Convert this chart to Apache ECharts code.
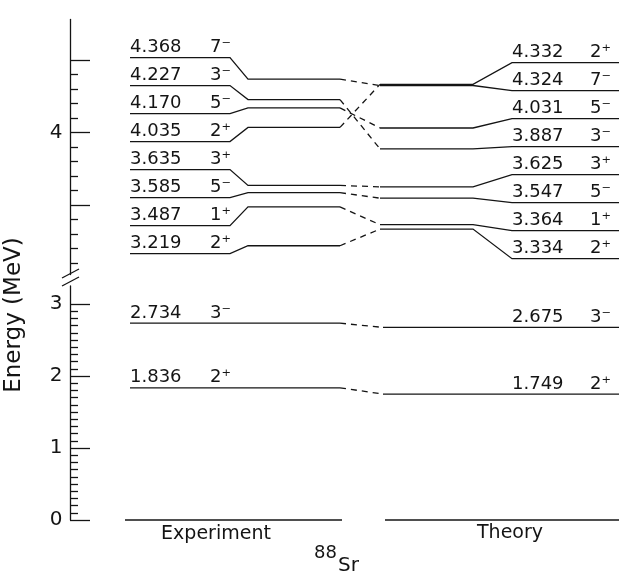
<!DOCTYPE html>
<html>
<head>
<meta charset="utf-8">
<script src="https://cdn.jsdelivr.net/npm/echarts@6/dist/echarts.min.js"></script>
<style>
  html, body { margin: 0; padding: 0; background: #fff; }
  #chart { width: 619px; height: 582px; }
</style>
</head>
<body>
<div id="chart"></div>
<script>
// 88Sr level scheme: measured and calculated excitation energies (MeV)
const upperSpins = ['7⁻', '3⁻', '5⁻', '2⁺', '3⁺', '5⁻', '1⁺', '2⁺'];
const upperExp   = [4.368, 4.227, 4.170, 4.035, 3.635, 3.585, 3.487, 3.219];
const upperThy   = [4.324, 3.887, 4.031, 4.332, 3.625, 3.547, 3.364, 3.334];

const lowerSpins = ['3⁻', '2⁺'];
const lowerExp   = [2.734, 1.836];
const lowerThy   = [2.675, 1.749];

const groundExp = [0];
const groundThy = [0];

const upperMajorTicks = [3.5, 4.0, 4.5];
const upperTickLabels = [4];
const lowerMajorTicks = [0, 1, 2, 3];
const lowerTickLabels = [0, 1, 2, 3];

const columnNames = ['Experiment', 'Theory'];
const nucleusMass = '88';
const nucleusSymbol = 'Sr';

// ---- drawing setup ----
const INK = '#141414';
const FONT = '"DejaVu Sans", sans-serif';
const LW = 1.3;
const DASH = [6, 5];
const LABEL_GAP = 28;     // minimum vertical spacing between stacked level labels
const LABEL_RISE = 10;    // label centre above its line
const LABEL_SIZE = 18;

// horizontal layout of the two columns (px)
const X = {
  expL: 130, expKnee: 230, expBend: 248, expR: 340,
  thyL: 380, thyKnee: 473, thyBend: 512, thyR: 619,
  expNum: 130, expSpin: 210, thyNum: 512, thySpin: 590,
  lowThyL: 383, gndExpL: 125, gndExpR: 342, gndThyL: 385
};

function minorTicks(from, to, majors) {
  const out = [];
  for (let k = Math.round(from * 10); k <= Math.round(to * 10); k++) {
    const v = k / 10;
    if (!majors.some(m => Math.abs(m - v) < 1e-9)) out.push(v);
  }
  return out;
}

// spread crowded label rows apart, keeping each cluster centred on its levels
function spreadSlots(ys, gap) {
  const order = ys.map((y, i) => i).sort((a, b) => ys[a] - ys[b]);
  let groups = order.map(i => ({ ids: [i], mean: ys[i] }));
  let merged = true;
  while (merged) {
    merged = false;
    for (let k = 0; k < groups.length - 1; k++) {
      const a = groups[k], b = groups[k + 1];
      const aEnd = a.mean + (a.ids.length - 1) * gap / 2;
      const bStart = b.mean - (b.ids.length - 1) * gap / 2;
      if (bStart - aEnd < gap) {
        const ids = a.ids.concat(b.ids);
        const mean = ids.reduce((s, id) => s + ys[id], 0) / ids.length;
        groups.splice(k, 2, { ids, mean });
        merged = true;
        break;
      }
    }
  }
  const slots = [];
  groups.forEach(g => g.ids.forEach((id, j) => {
    slots[id] = g.mean + (j - (g.ids.length - 1) / 2) * gap;
  }));
  return slots;
}

function line(points, dashed) {
  return {
    type: 'polyline',
    shape: { points },
    style: { stroke: INK, lineWidth: LW, fill: null, lineDash: dashed ? DASH : null }
  };
}
function label(text, x, y) {
  return {
    type: 'text',
    style: { text, x, y, fill: INK, fontSize: LABEL_SIZE, fontFamily: FONT, align: 'left', verticalAlign: 'middle' }
  };
}

function renderUpper(params, api) {
  const i = params.dataIndex;
  const yE = upperExp.map(e => api.coord([0, e])[1]);
  const yT = upperThy.map(e => api.coord([0, e])[1]);
  const sE = spreadSlots(yE, LABEL_GAP);
  const sT = spreadSlots(yT, LABEL_GAP);
  return {
    type: 'group',
    children: [
      line([[X.expL, sE[i]], [X.expKnee, sE[i]], [X.expBend, yE[i]], [X.expR, yE[i]]]),
      line([[X.expR, yE[i]], [X.thyL, yT[i]]], true),
      line([[X.thyL, yT[i]], [X.thyKnee, yT[i]], [X.thyBend, sT[i]], [X.thyR, sT[i]]]),
      label(upperExp[i].toFixed(3), X.expNum, sE[i] - LABEL_RISE),
      label(upperSpins[i], X.expSpin, sE[i] - LABEL_RISE),
      label(upperThy[i].toFixed(3), X.thyNum, sT[i] - LABEL_RISE),
      label(upperSpins[i], X.thySpin, sT[i] - LABEL_RISE)
    ]
  };
}

function renderLower(params, api) {
  const i = params.dataIndex;
  const yE = api.coord([0, lowerExp[i]])[1];
  const yT = api.coord([0, lowerThy[i]])[1];
  return {
    type: 'group',
    children: [
      line([[X.expL, yE], [X.expR, yE]]),
      line([[X.expR, yE], [X.lowThyL, yT]], true),
      line([[X.lowThyL, yT], [X.thyR, yT]]),
      label(lowerExp[i].toFixed(3), X.expNum, yE - LABEL_RISE),
      label(lowerSpins[i], X.expSpin, yE - LABEL_RISE),
      label(lowerThy[i].toFixed(3), X.thyNum, yT - LABEL_RISE),
      label(lowerSpins[i], X.thySpin, yT - LABEL_RISE)
    ]
  };
}

function renderGround(params, api) {
  const i = params.dataIndex;
  const yE = api.coord([0, groundExp[i]])[1];
  const yT = api.coord([0, groundThy[i]])[1];
  return {
    type: 'group',
    children: [
      line([[X.gndExpL, yE], [X.gndExpR, yE]]),
      line([[X.gndThyL, yT], [X.thyR, yT]])
    ]
  };
}

const axisLine = { show: true, lineStyle: { color: INK, width: LW } };
const tickLabel = (values) => ({
  show: true, customValues: values, color: INK, fontSize: 20, fontFamily: FONT,
  align: 'center', margin: 14
});

function yAxesFor(grid, min, max, majors, labels, minors) {
  return [
    {
      type: 'value', gridIndex: grid, min, max, position: 'left',
      axisLine, splitLine: { show: false },
      axisTick: { show: true, inside: true, length: 20, customValues: majors, lineStyle: { color: INK, width: LW } },
      axisLabel: tickLabel(labels)
    },
    {
      type: 'value', gridIndex: grid, min, max, position: 'left',
      axisLine: { show: false }, splitLine: { show: false },
      axisTick: { show: true, inside: true, length: 8, customValues: minors, lineStyle: { color: INK, width: LW } },
      axisLabel: { show: false }
    }
  ];
}

const chart = echarts.init(document.getElementById('chart'), null, { renderer: 'canvas' });

chart.setOption({
  animation: false,
  backgroundColor: '#fff',
  grid: [
    { left: 70, right: 0, top: 19.4, bottom: 307.4 },
    { left: 70, right: 0, top: 286, bottom: 62 }
  ],
  xAxis: [
    { type: 'value', gridIndex: 0, min: 0, max: 1, show: false },
    { type: 'value', gridIndex: 1, min: 0, max: 1, show: false }
  ],
  yAxis: [
    ...yAxesFor(0, 3.02, 4.78, upperMajorTicks, upperTickLabels, minorTicks(3.1, 4.5, upperMajorTicks)),
    ...yAxesFor(1, 0, 3.25, lowerMajorTicks, lowerTickLabels, minorTicks(0.1, 2.9, lowerMajorTicks))
  ],
  series: [
    {
      type: 'custom', xAxisIndex: 0, yAxisIndex: 0, clip: false,
      data: upperExp.map((e, i) => [0, e, upperThy[i]]),
      encode: { x: 0, y: [1, 2] },
      renderItem: renderUpper
    },
    {
      type: 'custom', xAxisIndex: 1, yAxisIndex: 2, clip: false,
      data: lowerExp.map((e, i) => [0, e, lowerThy[i]]),
      encode: { x: 0, y: [1, 2] },
      renderItem: renderLower
    },
    {
      type: 'custom', xAxisIndex: 1, yAxisIndex: 2, clip: false,
      data: groundExp.map((e, i) => [0, e, groundThy[i]]),
      encode: { x: 0, y: [1, 2] },
      renderItem: renderGround
    }
  ],
  graphic: [
    // axis break marks
    { type: 'line', shape: { x1: 62, y1: 278, x2: 79, y2: 269 }, style: { stroke: INK, lineWidth: LW } },
    { type: 'line', shape: { x1: 62, y1: 286, x2: 79, y2: 277 }, style: { stroke: INK, lineWidth: LW } },
    {
      type: 'text', x: 14, y: 315, rotation: Math.PI / 2,
      style: { text: 'Energy (MeV)', fill: INK, fontSize: 23, fontFamily: FONT, align: 'center', verticalAlign: 'middle' }
    },
    {
      type: 'text', x: 216, y: 534,
      style: { text: columnNames[0], fill: INK, fontSize: 19, fontFamily: FONT, align: 'center', verticalAlign: 'middle' }
    },
    {
      type: 'text', x: 510, y: 533,
      style: { text: columnNames[1], fill: INK, fontSize: 19, fontFamily: FONT, align: 'center', verticalAlign: 'middle' }
    },
    {
      type: 'text', x: 337, y: 553,
      style: { text: nucleusMass, fill: INK, fontSize: 18, fontFamily: FONT, align: 'right', verticalAlign: 'middle' }
    },
    {
      type: 'text', x: 338, y: 566,
      style: { text: nucleusSymbol, fill: INK, fontSize: 20, fontFamily: FONT, align: 'left', verticalAlign: 'middle' }
    }
  ]
});
</script>
</body>
</html>
